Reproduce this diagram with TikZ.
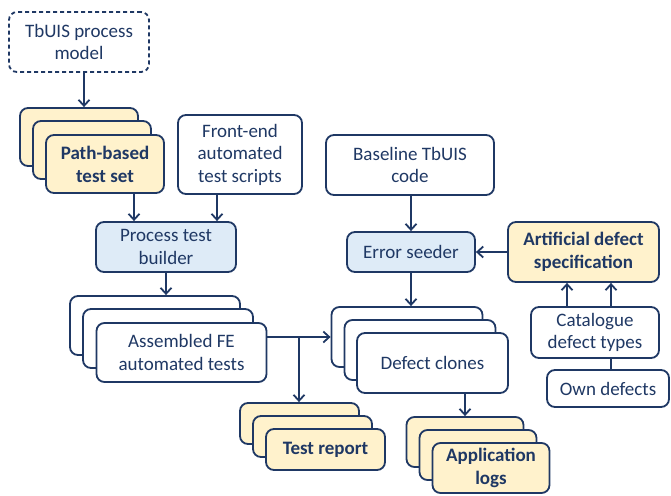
\documentclass[tikz,border=0pt]{standalone}
\usepackage{fontspec}
\setmainfont{Carlito}
\usetikzlibrary{arrows.meta}
\definecolor{navy}{HTML}{1F3864}
\definecolor{yel}{HTML}{FFF2CC}
\definecolor{lblue}{HTML}{DEEBF7}
\tikzset{
  base/.style={draw=navy, line width=1.8pt, rounded corners=8pt, text=navy, align=center, inner sep=0pt, font=\fontsize{19}{22.5}\selectfont},
  plain/.style={base, fill=white},
  yellowbox/.style={base, fill=yel, font=\fontsize{19}{23}\selectfont\bfseries},
  bluebox/.style={base, fill=lblue},
  dashbox/.style={base, fill=white, dashed, dash pattern=on 4pt off 3pt},
  arr/.style={draw=navy, line width=1.8pt, -{Straight Barb[length=6pt,width=11pt,line width=1.8pt]}},
  ln/.style={draw=navy, line width=1.8pt},
}
\begin{document}
\begin{tikzpicture}[x=1pt,y=-1pt]
\path[use as bounding box] (0,0) rectangle (671,495);

% TbUIS process model
\node[dashbox, minimum width=140, minimum height=60] (tbuis) at (79,42) {TbUIS process\\model};

% Path-based test set stack
\node[yellowbox, minimum width=118, minimum height=58] (pb3) at (79,137) {};
\node[yellowbox, minimum width=118, minimum height=58] (pb2) at (92,150) {};
\node[yellowbox, minimum width=118, minimum height=58] (pb1) at (105,164) {Path-based\\test set};

% Front-end scripts
\node[plain, minimum width=124, minimum height=79] (fe) at (240,154.5) {Front-end\\automated\\test scripts};

% Baseline
\node[plain, minimum width=168, minimum height=60] (base) at (410,165) {Baseline TbUIS\\code};

% Process test builder
\node[bluebox, minimum width=140, minimum height=50] (ptb) at (166,247) {Process test\\builder};

% Error seeder
\node[bluebox, minimum width=128, minimum height=40] (es) at (411,252) {Error seeder};

% Artificial defect specification
\node[yellowbox, minimum width=151, minimum height=60] (ads) at (583.5,252) {Artificial defect\\specification};

% Assembled stack
\node[plain, minimum width=170, minimum height=59] (as3) at (155,325.5) {};
\node[plain, minimum width=170, minimum height=59] (as2) at (168,338.5) {};
\node[plain, minimum width=170, minimum height=59] (as1) at (181.5,352.5) {Assembled FE\\automated tests};

% Defect clones stack
\node[plain, minimum width=151, minimum height=60] (dc3) at (407,337) {};
\node[plain, minimum width=151, minimum height=60] (dc2) at (420,350) {};
\node[plain, minimum width=151, minimum height=60] (dc1) at (432.5,363) {Defect clones};

% Catalogue
\node[plain, minimum width=128, minimum height=51] (cat) at (595,332.5) {Catalogue\\defect types};
\node[plain, minimum width=122, minimum height=37] (own) at (608,388.5) {Own defects};

% Test report stack
\node[yellowbox, minimum width=119, minimum height=41] (tr3) at (299.5,423.5) {};
\node[yellowbox, minimum width=119, minimum height=41] (tr2) at (312.5,436.5) {};
\node[yellowbox, minimum width=119, minimum height=41] (tr1) at (325.5,449.5) {Test report};

% Application logs stack
\node[yellowbox, minimum width=117, minimum height=50] (al3) at (465,442) {};
\node[yellowbox, minimum width=117, minimum height=50] (al2) at (478,455) {};
\node[yellowbox, minimum width=117, minimum height=50] (al1) at (491,468) {Application\\logs};

% Connectors
\draw[arr] (tbuis.south -| 84,0) -- (pb3.north -| 84,0);
\draw[arr] (pb1.south -| 134,0) -- (ptb.north -| 134,0);
\draw[arr] (fe.south -| 217,0) -- (ptb.north -| 217,0);
\draw[arr] (ptb.south) -- (ptb.south |- as3.north);
\draw[arr] (base.south -| es.north) -- (es.north);
\draw[arr] (es.south) -- (es.south |- dc3.north);
\draw[arr] (ads.west) -- (es.east);
\draw[arr] (cat.north -| 567,0) -- (ads.south -| 567,0);
\draw[arr] (cat.north -| 611,0) -- (ads.south -| 611,0);
\draw[ln] (own.north -| 611,0) -- (cat.south -| 611,0);
\coordinate (br) at (299,337);
\draw[arr] (as1.east |- br) -- (dc3.west |- br);
\draw[arr] (br) -- (tr3.north -| br);
\draw[arr] (dc1.south -| al3.north) -- (al3.north);
\end{tikzpicture}
\end{document}
